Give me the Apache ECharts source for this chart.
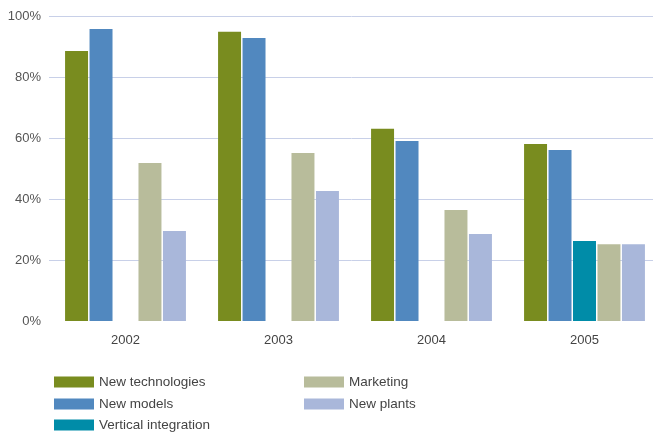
<!DOCTYPE html>
<html><head><meta charset="utf-8">
<script src="https://cdn.jsdelivr.net/npm/echarts@6/dist/echarts.min.js"></script>
<style>html,body{margin:0;padding:0;background:#fff}#c{width:653px;height:434px}</style>
</head><body><div id="c"></div>
<script>
var categories = ['2002', '2003', '2004', '2005'];
var newTechnologies = [88.5, 94.8, 63.0, 58.0];
var newModels = [95.7, 92.8, 59.0, 56.1];
var verticalIntegration = [null, null, null, 26.2];
var marketing = [51.8, 55.1, 36.4, 25.2];
var newPlants = [29.5, 42.6, 28.5, 25.2];
var yTicks = [0, 20, 40, 60, 80, 100];

var font = 'Liberation Sans, Arial, sans-serif';
function bar(name, data, color) {
  return { name: name, type: 'bar', data: data, itemStyle: { color: color },
    barGap: '6.5%', barCategoryGap: '21%' };
}
function leg(name, left, top) {
  return { left: left, top: top, padding: 0, orient: 'vertical', itemWidth: 40, itemHeight: 11,
    icon: 'rect', textStyle: { color: '#444', fontSize: 13.5, fontFamily: font },
    data: [name] };
}
var chart = echarts.init(document.getElementById('c'));
chart.setOption({
  animation: false,
  textStyle: { fontFamily: font },
  grid: { left: 49, width: 612, top: 16, height: 305, outerBoundsMode: 'none' },
  xAxis: { type: 'category', data: categories,
    axisLine: { show: false }, axisTick: { show: false },
    axisLabel: { color: '#444', fontSize: 13, margin: 13, fontFamily: font } },
  yAxis: { type: 'value', min: yTicks[0], max: yTicks[yTicks.length - 1], interval: 20,
    axisLine: { show: false }, axisTick: { show: false },
    splitLine: { showMinLine: false, lineStyle: { color: '#c8d0e8', width: 1 } },
    axisLabel: { color: '#555', fontSize: 13, margin: 8, formatter: '{value}%', fontFamily: font } },
  legend: [
    leg('New technologies', 54, 375),
    leg('New models', 54, 397),
    leg('Vertical integration', 54, 418),
    leg('Marketing', 304, 375),
    leg('New plants', 304, 397)
  ],
  series: [
    bar('New technologies', newTechnologies, '#798c1f'),
    bar('New models', newModels, '#5188bf'),
    bar('Vertical integration', verticalIntegration, '#008ca8'),
    bar('Marketing', marketing, '#b8bc9b'),
    bar('New plants', newPlants, '#a9b7da')
  ]
});
</script></body></html>
